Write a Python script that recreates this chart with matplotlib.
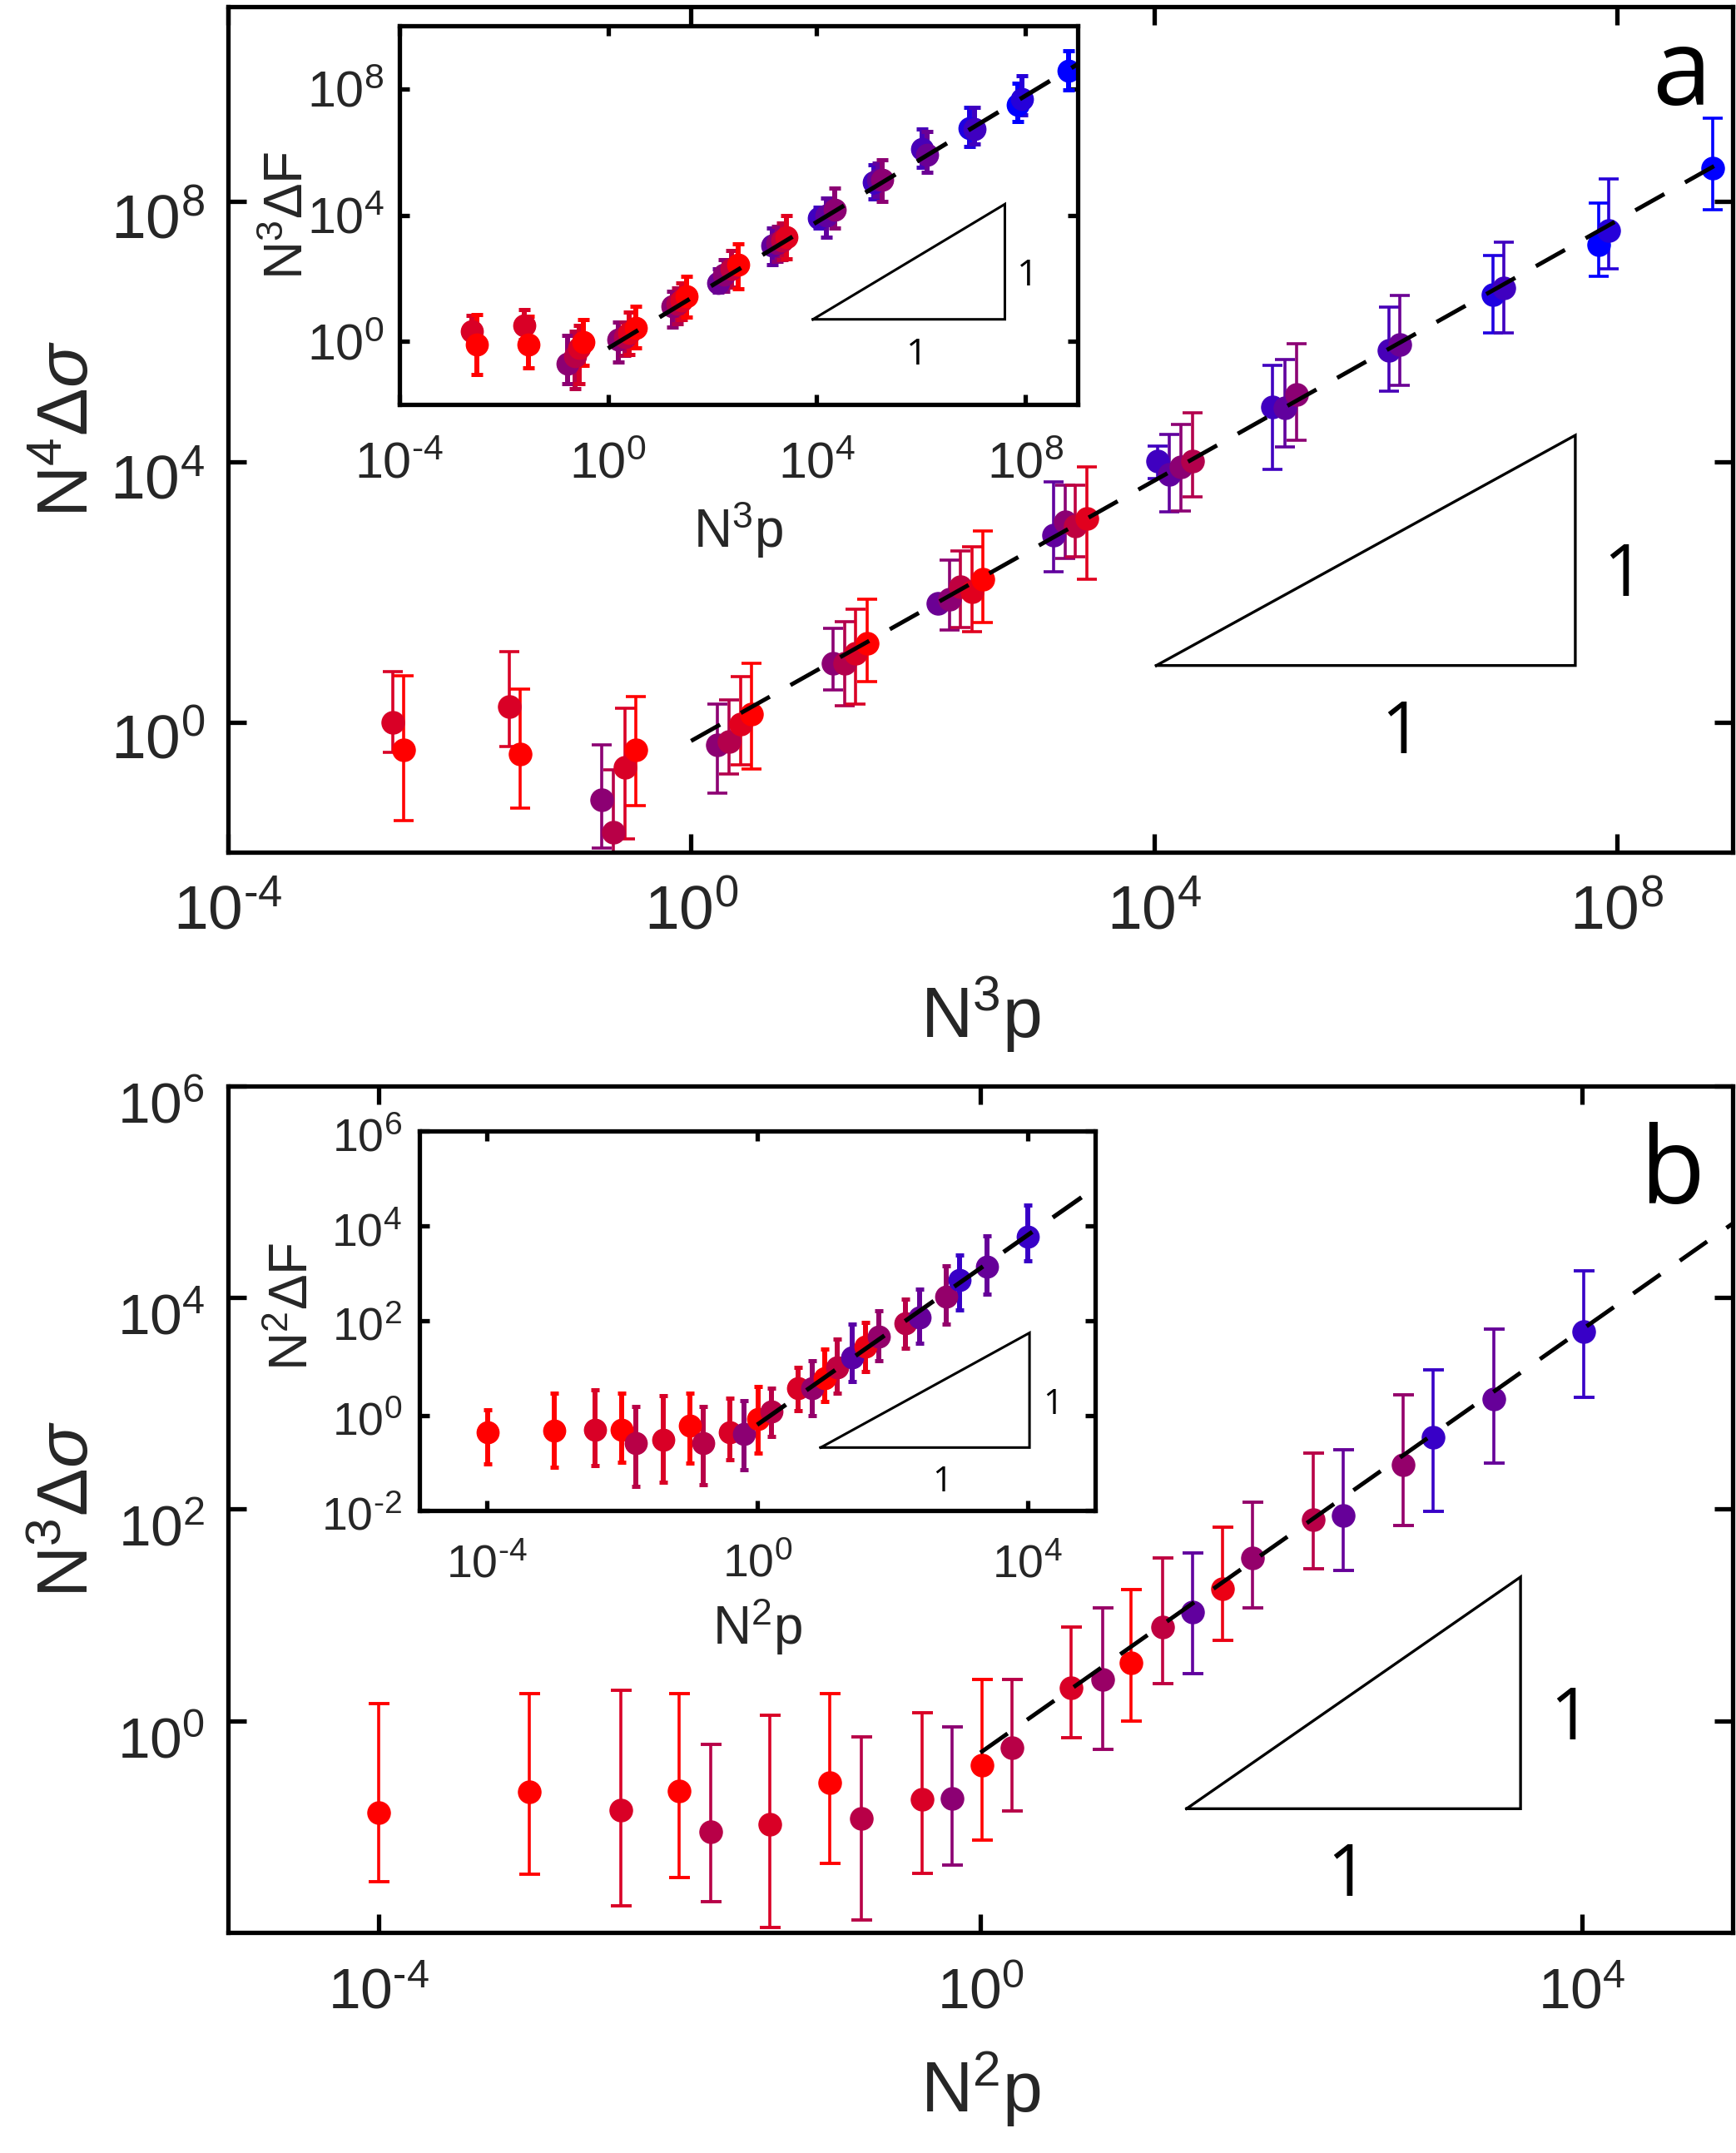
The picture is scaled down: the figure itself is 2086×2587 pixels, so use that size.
import numpy as np
import matplotlib
matplotlib.use('Agg')
import matplotlib.pyplot as plt
from matplotlib.colors import LinearSegmentedColormap
from matplotlib.ticker import NullLocator, FuncFormatter
from matplotlib.transforms import ScaledTranslation

plt.rcParams['font.family'] = ['Liberation Sans', 'DejaVu Sans']
plt.rcParams['mathtext.fontset'] = 'custom'
plt.rcParams['mathtext.rm'] = 'Liberation Sans'
plt.rcParams['mathtext.it'] = 'Liberation Sans:italic'
plt.rcParams['mathtext.bf'] = 'Liberation Sans:bold'
plt.rcParams['axes.unicode_minus'] = False

# ---- panel a, main: log10(N^3 p), log10(N^4 dsigma), error limits, colour shade (0 red .. 1 blue)
a_x = [-2.58, -2.48, -1.57, -1.48, -0.77, -0.67, -0.57, -0.48, 0.23, 0.33, 0.43, 0.52,
       1.23, 1.33, 1.42, 1.52, 2.13, 2.23, 2.33, 2.43, 2.52, 3.13, 3.23, 3.32, 3.42,
       4.03, 4.13, 4.23, 4.33, 5.02, 5.13, 5.23, 6.03, 6.12, 6.93, 7.02, 7.84, 7.93, 8.83]
a_y = [0.00, -0.43, 0.24, -0.49, -1.19, -1.69, -0.69, -0.43, -0.35, -0.30, -0.03, 0.12,
       0.91, 0.91, 1.06, 1.21, 1.83, 1.89, 2.08, 2.00, 2.20, 2.88, 3.08, 3.02, 3.13,
       4.01, 3.81, 3.93, 4.01, 4.85, 4.83, 5.04, 5.72, 5.81, 6.57, 6.67, 7.34, 7.56, 8.52]
a_lo = [-0.47, -1.51, -0.37, -1.32, -1.94, -2.10, -1.79, -1.29, -1.09, -0.80, -0.66, -0.72,
        0.49, 0.25, 0.28, 0.62, 1.83, 1.41, 1.45, 1.39, 1.53, 2.31, 2.52, 2.54, 2.20,
        3.74, 3.23, 3.24, 3.46, 3.88, 4.23, 4.33, 5.09, 5.18, 5.98, 5.98, 6.86, 6.97, 7.88]
a_hi = [0.78, 0.71, 1.08, 0.51, -0.35, -0.73, 0.21, 0.39, 0.28, 0.34, 0.70, 0.90,
        1.44, 1.55, 1.73, 1.89, 1.83, 2.49, 2.63, 2.70, 2.94, 3.69, 3.64, 3.64, 3.93,
        4.25, 4.42, 4.58, 4.75, 5.48, 5.57, 5.82, 6.38, 6.56, 7.18, 7.38, 7.98, 8.35, 9.29]
a_shade = [0.15, 0.0, 0.15, 0.0, 0.45, 0.28, 0.15, 0.0, 0.45, 0.30, 0.12, 0.0,
           0.45, 0.30, 0.15, 0.0, 0.58, 0.45, 0.25, 0.12, 0.0, 0.62, 0.45, 0.25, 0.12,
           0.75, 0.62, 0.45, 0.30, 0.75, 0.62, 0.45, 0.72, 0.58, 0.88, 0.75, 1.0, 0.85, 1.0]

# ---- panel a, inset: log10(N^3 p), log10(N^3 dF)
ai_x = [-2.61, -2.51, -1.61, -1.52, -0.77, -0.64, -0.56, -0.48, 0.19, 0.32, 0.40, 0.53,
        1.23, 1.33, 1.41, 1.51, 2.12, 2.23, 2.37, 2.50, 3.15, 3.25, 3.34, 3.42,
        4.05, 4.18, 4.34, 5.10, 5.18, 5.26, 6.02, 6.12, 6.94, 7.03, 7.86, 7.93, 8.83]
ai_y = [0.33, -0.11, 0.50, -0.11, -0.70, -0.46, -0.20, -0.02, 0.07, 0.15, 0.28, 0.43,
        1.11, 1.20, 1.29, 1.42, 1.86, 2.12, 2.29, 2.42, 3.04, 3.12, 3.21, 3.30,
        3.91, 4.00, 4.17, 5.05, 5.13, 5.13, 6.09, 5.92, 6.75, 6.72, 7.49, 7.67, 8.58]
ai_lo = [0.00, -1.05, 0.05, -0.83, -1.33, -1.49, -1.33, -0.77, -0.65, -0.45, -0.41, -0.20,
         0.46, 0.55, 0.68, 0.77, 1.55, 1.60, 1.72, 1.68, 2.42, 2.55, 2.60, 2.62,
         3.60, 3.30, 3.60, 4.52, 4.60, 4.43, 5.52, 5.35, 6.17, 6.25, 6.97, 7.19, 7.97]
ai_hi = [0.83, 0.85, 1.01, 0.81, 0.20, 0.33, 0.50, 0.70, 0.61, 0.62, 0.94, 1.11,
         1.59, 1.70, 1.86, 2.06, 2.30, 2.60, 2.88, 3.08, 3.60, 3.65, 3.75, 4.00,
         4.26, 4.54, 4.87, 5.61, 5.65, 5.76, 6.72, 6.65, 7.41, 7.41, 8.19, 8.41, 9.22]
ai_shade = [0.15, 0.0, 0.15, 0.0, 0.45, 0.28, 0.15, 0.0, 0.45, 0.30, 0.12, 0.0,
            0.45, 0.30, 0.15, 0.0, 0.58, 0.45, 0.25, 0.0, 0.62, 0.45, 0.25, 0.12,
            0.75, 0.62, 0.45, 0.75, 0.62, 0.45, 0.72, 0.58, 0.88, 0.75, 1.0, 0.85, 1.0]

# ---- panel b, main: log10(N^2 p), log10(N^3 dsigma)
b_x = [-4.00, -3.00, -2.39, -2.00, -1.79, -1.40, -1.00, -0.79, -0.39, -0.19, 0.01, 0.21,
       0.60, 0.81, 1.00, 1.21, 1.41, 1.61, 1.81, 2.21, 2.41, 2.81, 3.01, 3.41, 4.01]
b_y = [-0.87, -0.67, -0.84, -0.66, -1.05, -0.98, -0.58, -0.92, -0.74, -0.73, -0.42, -0.25,
       0.31, 0.39, 0.55, 0.89, 1.03, 1.25, 1.54, 1.90, 1.94, 2.42, 2.68, 3.04, 3.68]
b_lo = [-1.52, -1.45, -1.75, -1.48, -1.71, -1.95, -1.35, -1.88, -1.44, -1.36, -1.13, -0.85,
        -0.16, -0.27, 0.00, 0.35, 0.45, 0.76, 1.07, 1.44, 1.42, 1.85, 1.98, 2.44, 3.06]
b_hi = [0.16, 0.26, 0.29, 0.26, -0.22, 0.05, 0.26, -0.15, 0.08, -0.06, 0.39, 0.39,
        0.89, 1.07, 1.24, 1.54, 1.59, 1.83, 2.07, 2.53, 2.56, 3.08, 3.32, 3.70, 4.25]
b_shade = [0.0, 0.0, 0.15, 0.0, 0.28, 0.15, 0.0, 0.28, 0.15, 0.45, 0.0, 0.28,
           0.15, 0.40, 0.0, 0.25, 0.62, 0.08, 0.42, 0.28, 0.60, 0.42, 0.78, 0.60, 0.78]

# ---- panel b, inset: log10(N^2 p), log10(N^2 dF)
bi_x = [-3.99, -3.00, -2.40, -2.00, -1.80, -1.39, -0.99, -0.80, -0.40, -0.19, 0.02, 0.21,
        0.61, 0.81, 1.00, 1.19, 1.40, 1.60, 1.80, 2.20, 2.40, 2.80, 3.00, 3.40, 4.00]
bi_y = [-0.36, -0.33, -0.30, -0.30, -0.59, -0.52, -0.21, -0.59, -0.36, -0.39, -0.07, 0.08,
        0.58, 0.58, 0.78, 1.01, 1.22, 1.45, 1.66, 1.95, 2.06, 2.51, 2.85, 3.14, 3.77]
bi_lo = [-1.03, -1.09, -1.06, -0.99, -1.50, -1.42, -1.00, -1.47, -0.94, -1.15, -0.80, -0.44,
         0.10, 0.00, 0.30, 0.47, 0.72, 0.93, 1.16, 1.42, 1.52, 1.92, 2.22, 2.55, 3.26]
bi_hi = [0.12, 0.47, 0.53, 0.47, 0.18, 0.41, 0.47, 0.18, 0.37, 0.31, 0.60, 0.58,
         1.01, 1.16, 1.39, 1.61, 1.92, 1.96, 2.21, 2.45, 2.66, 3.15, 3.38, 3.78, 4.44]
bi_shade = [0.0, 0.0, 0.15, 0.0, 0.28, 0.15, 0.0, 0.28, 0.15, 0.45, 0.0, 0.28,
            0.15, 0.42, 0.0, 0.25, 0.65, 0.08, 0.42, 0.28, 0.60, 0.42, 0.78, 0.60, 0.78]

# fitted slope-1 lines (log10 end points)
fit_a_x, fit_a_y = [0, 9], [-0.29, 8.71]
fit_ai_x, fit_ai_y = [0, 9], [-0.22, 8.78]
fit_b_x, fit_b_y = [0, 5], [-0.30, 4.70]
fit_bi_x, fit_bi_y = [0, 5], [-0.20, 4.80]

# slope triangles (log10 corners)
tri_a = ([4.02, 7.64], [0.87, 4.41])
tri_ai = ([3.93, 7.61], [0.70, 4.35])
tri_b = ([1.37, 3.59], [-0.83, 1.36])
tri_bi = ([0.94, 4.03], [-0.68, 1.74])

cmap = LinearSegmentedColormap.from_list('redblue', ['#ff0000', '#0000ff'])
TXT = '#262626'


def pow10(v, pos):
    # matlab style 10^n label, short hyphen for negative exponents
    e = str(int(round(np.log10(v)))).replace('-', '\u2010')
    return '$\\mathdefault{10^{%s}}$' % e


def draw_points(ax, lx, ly, llo, lhi, shade, ms, elw, cap, capw):
    for i in range(len(lx)):
        x = 10 ** lx[i]
        y = 10 ** ly[i]
        err = [[y - 10 ** llo[i]], [10 ** lhi[i] - y]]
        c = cmap(shade[i])
        ax.errorbar([x], [y], yerr=err, fmt='o', color=c, ms=ms, mfc=c, mec=c,
                    elinewidth=elw, capsize=cap, capthick=capw)


def draw_fit(ax, fx, fy, lw):
    ax.plot(10 ** np.array(fx, float), 10 ** np.array(fy, float), color='k', lw=lw,
            dashes=(8, 5.7), zorder=5)


def draw_triangle(ax, tri, lw, fs, bpos, rpos):
    tx, ty = tri
    xs = 10 ** np.array([tx[0], tx[1], tx[1], tx[0]])
    ys = 10 ** np.array([ty[0], ty[0], ty[1], ty[0]])
    ax.plot(xs, ys, color='k', lw=lw, solid_joinstyle='miter')
    for p in (bpos, rpos):
        ax.text(p[0], p[1], '1', transform=ax.transAxes, ha='center', va='baseline',
                fontsize=fs, family=['Open Sans', 'DejaVu Sans'], color='k')


def style(ax, xlim, ylim, xt, yt, labsize, ticklen, pad, ydrop):
    ax.set_xscale('log')
    ax.set_yscale('log')
    ax.set_xlim(xlim)
    ax.set_ylim(ylim)
    ax.set_xticks(xt)
    ax.set_yticks(yt)
    ax.xaxis.set_minor_locator(NullLocator())
    ax.yaxis.set_minor_locator(NullLocator())
    ax.xaxis.set_major_formatter(FuncFormatter(pow10))
    ax.yaxis.set_major_formatter(FuncFormatter(pow10))
    for s in ax.spines.values():
        s.set_linewidth(3.8)
    ax.tick_params(which='major', direction='in', top=True, right=True, length=ticklen,
                   width=3.8, labelsize=labsize, color='k', labelcolor=TXT)
    ax.tick_params(axis='x', pad=pad[0])
    ax.tick_params(axis='y', pad=pad[1])
    # matlab puts the digits a bit lower than the tick
    off = ScaledTranslation(0, -ydrop / 72, fig.dpi_scale_trans)
    for lab in ax.get_yticklabels():
        lab.set_transform(lab.get_transform() + off)


fig = plt.figure(figsize=(20.86, 25.87), dpi=100)

# ---------------- panel a
ax = fig.add_axes([0.1314, 0.6042, 0.8667, 0.3927])
style(ax, (1e-4, 1e9), (1e-2, 1e11), [1e-4, 1, 1e4, 1e8], [1, 1e4, 1e8], 54, 16, (27, 20), 12)
draw_fit(ax, fit_a_x, fit_a_y, 3.6)
draw_points(ax, a_x, a_y, a_lo, a_hi, a_shade, 19.5, 2.6, 8.6, 2.6)
draw_triangle(ax, tri_a, 2.4, 62, (0.780, 0.117), (0.9275, 0.3036))
ax.set_xlabel('N$^3$p', fontsize=62, color=TXT)
ax.set_ylabel(r'N$^4$Δ$\mathit{\sigma}$', fontsize=62, color=TXT)
ax.xaxis.set_label_coords(0.5, -0.146)
ax.yaxis.set_label_coords(-0.083, 0.5)
ax.text(0.966, 0.884, 'a', transform=ax.transAxes, ha='center', va='baseline',
        fontsize=92, family=['Open Sans', 'DejaVu Sans'], color='k')

axi = fig.add_axes([0.2301, 0.8121, 0.3905, 0.1759])
style(axi, (1e-4, 1e9), (1e-2, 1e10), [1e-4, 1, 1e4, 1e8], [1, 1e4, 1e8], 44, 8.6, (32, 13), 0)
draw_fit(axi, fit_ai_x, fit_ai_y, 3.8)
draw_points(axi, ai_x, ai_y, ai_lo, ai_hi, ai_shade, 19, 4.3, 4.7, 3.6)
draw_triangle(axi, tri_ai, 2.2, 32, (0.763, 0.1055), (0.926, 0.314))
axi.set_xlabel('N$^3$p', fontsize=46, color=TXT)
axi.set_ylabel('N$^3$ΔF', fontsize=46, color=TXT)
axi.xaxis.set_label_coords(0.5, -0.25)
axi.yaxis.set_label_coords(-0.126, 0.5)

# ---------------- panel b
bx = fig.add_axes([0.1314, 0.1024, 0.8667, 0.3932])
style(bx, (1e-5, 1e5), (1e-2, 1e6), [1e-4, 1, 1e4], [1, 1e2, 1e4, 1e6], 50, 16, (30, 20), 14)
draw_fit(bx, fit_b_x, fit_b_y, 3.6)
draw_points(bx, b_x, b_y, b_lo, b_hi, b_shade, 19.5, 2.6, 9, 2.8)
draw_triangle(bx, tri_b, 2.4, 62, (0.7436, 0.0438), (0.8922, 0.228))
bx.set_xlabel('N$^2$p', fontsize=62, color=TXT)
bx.set_ylabel(r'N$^3$Δ$\mathit{\sigma}$', fontsize=62, color=TXT)
bx.xaxis.set_label_coords(0.5, -0.138)
bx.yaxis.set_label_coords(-0.083, 0.5)
bx.text(0.9596, 0.8614, 'b', transform=bx.transAxes, ha='center', va='baseline',
        fontsize=92, family=['Open Sans', 'DejaVu Sans'], color='k')

bxi = fig.add_axes([0.2415, 0.2986, 0.3893, 0.1761])
style(bxi, (1e-5, 1e5), (1e-2, 1e6), [1e-4, 1, 1e4], [1e-2, 1, 1e2, 1e4, 1e6], 40, 8.6, (29, 15), 3)
draw_fit(bxi, fit_bi_x, fit_bi_y, 3.8)
draw_points(bxi, bi_x, bi_y, bi_lo, bi_hi, bi_shade, 19, 4.3, 3.8, 3.6)
draw_triangle(bxi, tri_bi, 2.2, 30, (0.7734, 0.049), (0.937, 0.2536))
bxi.set_xlabel('N$^2$p', fontsize=46, color=TXT)
bxi.set_ylabel('N$^2$ΔF', fontsize=46, color=TXT)
bxi.xaxis.set_label_coords(0.5, -0.227)
bxi.yaxis.set_label_coords(-0.149, 0.537)

fig.savefig('out.png', dpi=100)
